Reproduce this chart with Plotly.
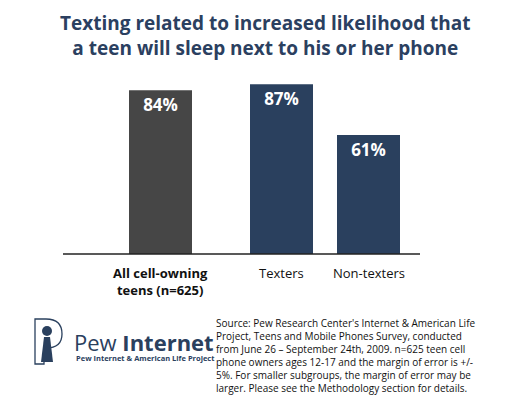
import plotly.graph_objects as go

categories = ["All cell-owning<br>teens (n=625)", "Texters", "Non-texters"]
values = [84, 87, 61]
labels = ["84%", "87%", "61%"]
colors = ["#464646", "#2a405e", "#2a405e"]

# bar centres / widths in pixel units of the plot area
xpos = [97.5, 218.5, 305.5]
FONT = "Open Sans, Noto Sans, sans-serif"

# page has an 8px body margin; plot area spans page x 63..420, baseline at page y 254
L, R, T, B = 55, 110, 51, 146
PW, PH = 357, 195


def px(x):  # page pixel x -> paper
    return (x - 63) / PW


def py(y):  # page pixel y -> paper
    return (254 - y) / PH


fig = go.Figure(go.Bar(
    x=xpos, y=values, width=63, marker=dict(color=colors, line=dict(width=0)),
    text=labels, textposition="inside", insidetextanchor="end",
    texttemplate="<b>%{text}</b>",
    textfont=dict(color="white", size=17, family=FONT),
    hoverinfo="skip"))

fig.update_layout(
    width=522, height=392, margin=dict(l=L, r=R, t=T, b=B),
    paper_bgcolor="white", plot_bgcolor="white", showlegend=False,
    xaxis=dict(range=[0, PW], showticklabels=False, showgrid=False, zeroline=False),
    yaxis=dict(range=[0, 100], visible=False),
    uniformtext=dict(minsize=8),
)
fig.add_shape(type="line", xref="paper", yref="paper", x0=0, x1=1, y0=0, y1=0,
              line=dict(color="#222", width=1.5))

fig.add_annotation(xref="paper", yref="paper", x=px(265), y=py(8), xanchor="center",
                   yanchor="top", showarrow=False, align="center",
                   text="<b>Texting related to increased likelihood that<br>a teen will sleep next to his or her phone</b>",
                   font=dict(size=19, color="#2b4060", family=FONT))

for xp, cat, bold in zip(xpos, categories, [True, False, False]):
    fig.add_annotation(x=xp, y=0, yref="y", yshift=-8, yanchor="top", showarrow=False,
                       text=f"<b>{cat}</b>" if bold else cat, align="center",
                       font=dict(size=13, color="#111", family=FONT))

source = ("Source: Pew Research Center's Internet & American Life<br>"
          "Project, Teens and Mobile Phones Survey, conducted<br>"
          "from June 26 – September 24th, 2009. n=625 teen cell<br>"
          "phone owners ages 12-17 and the margin of error is +/-<br>"
          "5%. For smaller subgroups, the margin of error may be<br>"
          "larger. Please see the Methodology section for details.")
fig.add_annotation(xref="paper", yref="paper", x=px(214), y=py(314),
                   xanchor="left", yanchor="top", showarrow=False, align="left",
                   text=source, font=dict(size=10, color="#111", family=FONT))

# logo
logo_col = "#2a405e"
fig.add_shape(type="path", xref="paper", yref="paper",
              path=f"M {px(35)},{py(364)} L {px(35)},{py(319)} L {px(46)},{py(319)} "
                   f"Q {px(62)},{py(319)} {px(62)},{py(334)} Q {px(62)},{py(348)} {px(46)},{py(348)} "
                   f"L {px(44)},{py(348)} L {px(44)},{py(364)} Z",
              line=dict(color=logo_col, width=1.3))
fig.add_shape(type="circle", xref="paper", yref="paper",
              x0=px(42), x1=px(52), y0=py(336), y1=py(326),
              fillcolor=logo_col, line=dict(width=0))
fig.add_shape(type="path", xref="paper", yref="paper",
              path=f"M {px(44)},{py(337)} L {px(50)},{py(337)} L {px(53)},{py(362)} L {px(41)},{py(362)} Z",
              fillcolor=logo_col, line=dict(width=0))
fig.add_annotation(xref="paper", yref="paper", x=px(72), y=py(342),
                   xanchor="left", yanchor="middle", showarrow=False,
                   text="Pew <b>Internet</b>", font=dict(size=22, color=logo_col, family=FONT))
fig.add_annotation(xref="paper", yref="paper", x=px(74), y=py(358),
                   xanchor="left", yanchor="middle", showarrow=False,
                   text="<b>Pew Internet & American Life Project</b>",
                   font=dict(size=7.5, color=logo_col, family=FONT))

fig.write_html("out.html")
